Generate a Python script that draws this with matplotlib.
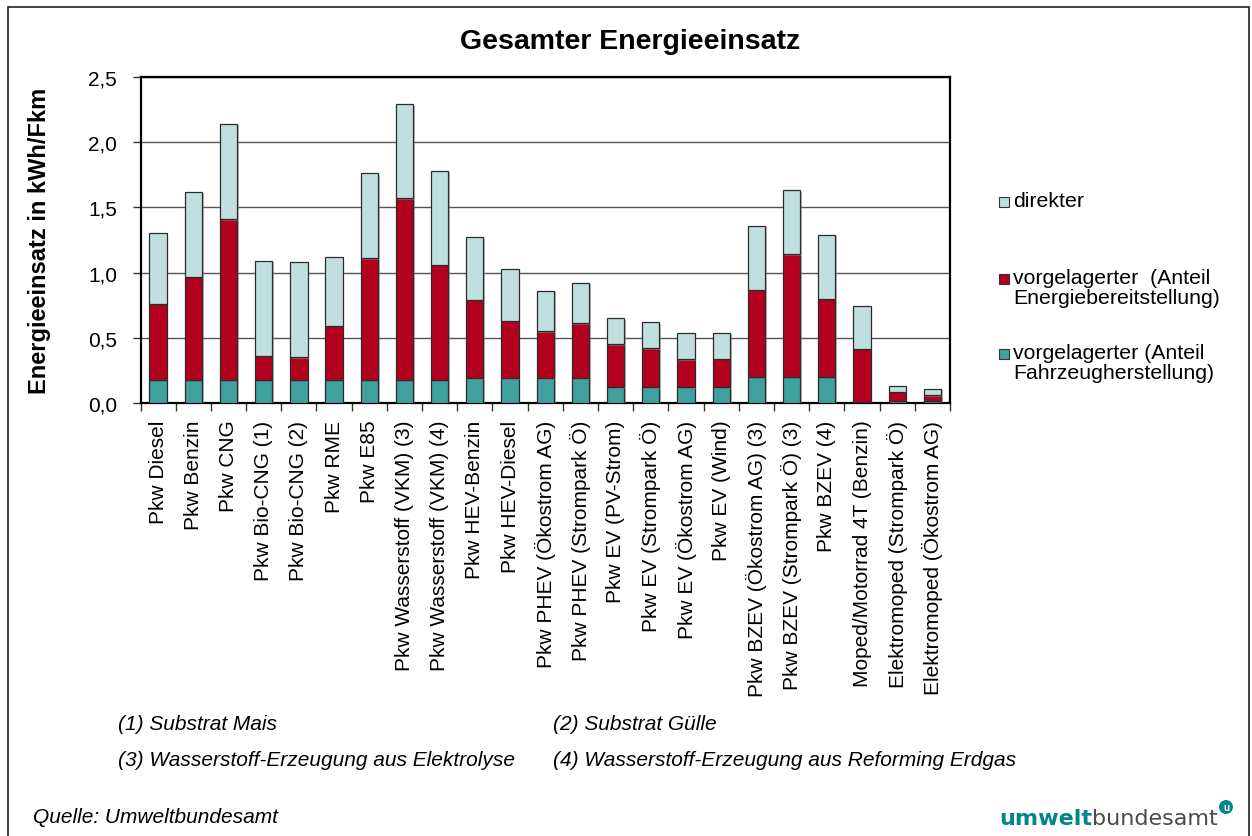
import numpy as np
import matplotlib
matplotlib.use('Agg')
import matplotlib.pyplot as plt
import matplotlib.patheffects as pe
from matplotlib.patches import Rectangle

W, H = 1252, 837

kategorien = [
    "Pkw Diesel", "Pkw Benzin", "Pkw CNG", "Pkw Bio-CNG (1)", "Pkw Bio-CNG (2)",
    "Pkw RME", "Pkw E85", "Pkw Wasserstoff (VKM) (3)", "Pkw Wasserstoff (VKM) (4)",
    "Pkw HEV-Benzin", "Pkw HEV-Diesel", "Pkw PHEV (Ökostrom AG)",
    "Pkw PHEV (Strompark Ö)", "Pkw EV (PV-Strom)", "Pkw EV (Strompark Ö)",
    "Pkw EV (Ökostrom AG)", "Pkw EV (Wind)", "Pkw BZEV (Ökostrom AG) (3)",
    "Pkw BZEV (Strompark Ö) (3)", "Pkw BZEV (4)", "Moped/Motorrad 4T (Benzin)",
    "Elektromoped (Strompark Ö)", "Elektromoped (Ökostrom AG)",
]

# Anteile in kWh/Fkm
fahrzeugherstellung = [0.18, 0.18, 0.18, 0.18, 0.18, 0.18, 0.18, 0.18, 0.18,
                       0.19, 0.19, 0.19, 0.19, 0.12, 0.12, 0.12, 0.12, 0.20,
                       0.20, 0.20, 0.01, 0.015, 0.015]
energiebereitstellung = [0.58, 0.79, 1.23, 0.18, 0.17, 0.41, 0.93, 1.39, 0.88,
                         0.60, 0.44, 0.36, 0.42, 0.33, 0.30, 0.215, 0.22, 0.67,
                         0.94, 0.60, 0.405, 0.07, 0.045]
direkter = [0.54, 0.65, 0.73, 0.73, 0.73, 0.53, 0.65, 0.72, 0.72,
            0.48, 0.40, 0.31, 0.31, 0.20, 0.20, 0.20, 0.20, 0.49,
            0.49, 0.49, 0.33, 0.046, 0.049]

yticks = [0.0, 0.5, 1.0, 1.5, 2.0, 2.5]
ytick_labels = ["0,0", "0,5", "1,0", "1,5", "2,0", "2,5"]

farbe_direkt = '#C0DFDF'
farbe_energie = '#B2001E'
farbe_fahrzeug = '#40A09E'
farbe_logo = '#00858A'

plt.rcParams['font.family'] = ['Liberation Sans', 'DejaVu Sans']

fig = plt.figure(figsize=(W / 100, H / 100), dpi=100)
ax = fig.add_axes([140.5 / W, 1 - 404 / H, (950 - 140.5) / W, (404 - 78) / H])

x = np.arange(len(kategorien))
unten = np.array(fahrzeugherstellung)
mitte = unten + np.array(energiebereitstellung)
schatten = [pe.SimplePatchShadow(offset=(1.2, -1.0), shadow_rgbFace='#888888', alpha=0.6), pe.Normal()]
breite = 0.49
kw = dict(width=breite, edgecolor='#2b2b2b', linewidth=0.9, zorder=3)
b1 = ax.bar(x, fahrzeugherstellung, color=farbe_fahrzeug, **kw)
b2 = ax.bar(x, energiebereitstellung, bottom=unten, color=farbe_energie, **kw)
b3 = ax.bar(x, direkter, bottom=mitte, color=farbe_direkt, **kw)
for gruppe in (b1, b2, b3):
    for p in gruppe:
        p.set_path_effects(schatten)

ax.set_xlim(-0.5, len(kategorien) - 0.5)
ax.set_ylim(0, 2.5)
ax.set_yticks(yticks)
ax.set_yticklabels(ytick_labels, fontsize=15)
ax.set_xticks(x)
ax.set_xticklabels(kategorien, rotation=90, fontsize=15, va='top')
ax.set_xticks(np.arange(-0.5, len(kategorien), 1), minor=True)
ax.tick_params(axis='x', which='major', length=0, pad=12)
ax.tick_params(axis='x', which='minor', length=6, width=1, color='#333333', direction='out')
ax.tick_params(axis='y', length=6, width=1, color='#333333', pad=11)
ax.yaxis.grid(True, color='#555555', linewidth=1.0, zorder=0)
ax.set_axisbelow(True)
for s in ax.spines.values():
    s.set_linewidth(1.6)
    s.set_color('black')

fig.text(40 / W, 1 - 241 / H, "Energieeinsatz in kWh/Fkm", rotation=90,
         fontsize=17, fontweight='bold', ha='center', va='center')

fig.text(630 / W, 1 - 42 / H, "Gesamter Energieeinsatz", fontsize=20.5,
         fontweight='bold', ha='center', va='center')

# Legende
legende = [
    (farbe_direkt, "direkter", 203),
    (farbe_energie, "vorgelagerter  (Anteil\nEnergiebereitstellung)", 280),
    (farbe_fahrzeug, "vorgelagerter (Anteil\nFahrzeugherstellung)", 355),
]
for farbe, text, ypx in legende:
    fig.patches.append(Rectangle((999 / W, 1 - (ypx + 5) / H), 10 / W, 10 / H,
                                 facecolor=farbe, edgecolor='#333333', linewidth=0.8,
                                 transform=fig.transFigure, figure=fig))
    fig.text(1013 / W, 1 - (ypx - 11) / H, text, fontsize=15.3, ha='left', va='top',
             linespacing=1.1)

# Fußnoten
fs = 15
fig.text(118 / W, 1 - 725 / H, "(1) Substrat Mais", fontsize=fs, style='italic', va='center')
fig.text(553 / W, 1 - 725 / H, "(2) Substrat Gülle", fontsize=fs, style='italic', va='center')
fig.text(118 / W, 1 - 761 / H, "(3) Wasserstoff-Erzeugung aus Elektrolyse", fontsize=fs,
         style='italic', va='center')
fig.text(553 / W, 1 - 761 / H, "(4) Wasserstoff-Erzeugung aus Reforming Erdgas", fontsize=fs,
         style='italic', va='center')
fig.text(33 / W, 1 - 818 / H, "Quelle: Umweltbundesamt", fontsize=fs, style='italic', va='center')

# Logo
t2 = fig.text(1218 / W, 1 - 825 / H, "bundesamt", fontsize=16, color='#4a4a4a',
              ha='right', va='baseline', family='DejaVu Sans')
fig.canvas.draw()
bb = t2.get_window_extent(fig.canvas.get_renderer())
fig.text(bb.x0 / W, 1 - 825 / H, "umwelt", fontsize=16, color=farbe_logo,
         fontweight='bold', ha='right', va='baseline', family='DejaVu Sans')
fig.text(1226 / W, 1 - 808 / H, "u", fontsize=7, color='white', fontweight='bold',
         ha='center', va='center',
         bbox=dict(boxstyle='circle,pad=0.2', fc=farbe_logo, ec='none'))

# Rahmen
fig.patches.append(Rectangle((8 / W, -0.01), (1249 - 8) / W, 1 - 8 / H + 0.01,
                             facecolor='none', edgecolor='#222222', linewidth=1.2,
                             transform=fig.transFigure, figure=fig))

fig.savefig('out.png', dpi=100)
